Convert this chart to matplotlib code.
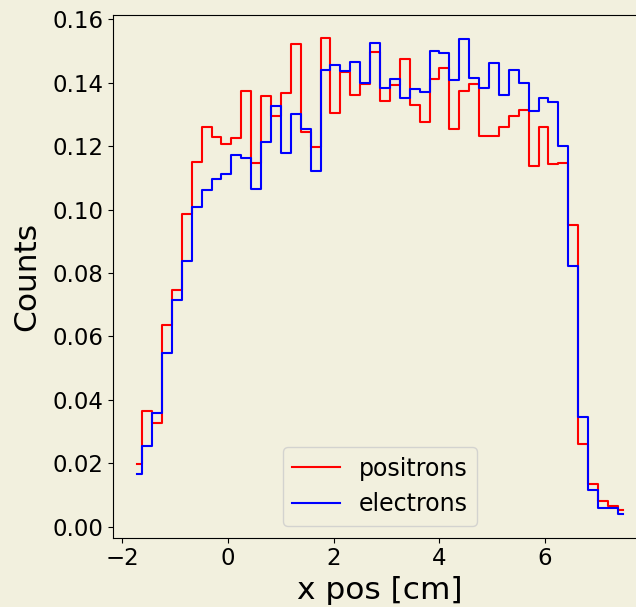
import numpy as np
import matplotlib
matplotlib.use("Agg")
import matplotlib.pyplot as plt

# bin centres (cm), 50 bins spanning roughly -1.72 .. 7.47
x_first, x_last, n_bins = -1.72, 7.47, 50
x_pos = np.linspace(x_first, x_last, n_bins)

positrons = [0.0198, 0.0364, 0.0326, 0.0637, 0.0747, 0.0987, 0.1149, 0.1261, 0.1229, 0.1208,
             0.1227, 0.1374, 0.1147, 0.1358, 0.1295, 0.1367, 0.1522, 0.1245, 0.1198, 0.1540,
             0.1305, 0.1435, 0.1361, 0.1395, 0.1498, 0.1343, 0.1392, 0.1475, 0.1329, 0.1276,
             0.1413, 0.1447, 0.1253, 0.1374, 0.1395, 0.1231, 0.1231, 0.1261, 0.1295, 0.1313,
             0.1138, 0.1261, 0.1144, 0.1147, 0.0952, 0.0261, 0.0135, 0.0082, 0.0066, 0.0051]

electrons = [0.0166, 0.0255, 0.0358, 0.0548, 0.0716, 0.0837, 0.1008, 0.1061, 0.1098, 0.1112,
             0.1173, 0.1163, 0.1065, 0.1212, 0.1326, 0.1177, 0.1301, 0.1253, 0.1122, 0.1440,
             0.1455, 0.1437, 0.1465, 0.1400, 0.1526, 0.1383, 0.1413, 0.1353, 0.1379, 0.1371,
             0.1501, 0.1495, 0.1408, 0.1537, 0.1416, 0.1383, 0.1463, 0.1362, 0.1441, 0.1399,
             0.1311, 0.1352, 0.1338, 0.1201, 0.0822, 0.0347, 0.0116, 0.0059, 0.0059, 0.0040]

bg = '#f2f0de'
fig = plt.figure(figsize=(6.36, 6.07), dpi=100, facecolor=bg)
ax = fig.add_axes([113/636, (607-537.7)/607, (647-113)/636, (537.7-14.6)/607])
ax.set_facecolor(bg)

ax.step(x_pos, positrons, where='mid', color='red', label='positrons')
ax.step(x_pos, electrons, where='mid', color='blue', label='electrons')

ax.set_xticks([-2, 0, 2, 4, 6])
ax.set_yticks(np.arange(0, 0.161, 0.02))
ax.tick_params(labelsize=16.5)
ax.set_xlabel('x pos [cm]', fontsize=22.5)
ax.set_ylabel('Counts', fontsize=22.5, labelpad=7.5)
ax.legend(loc='lower center', fontsize=17, facecolor=bg)

fig.savefig('out.png', dpi=100, facecolor=bg)
